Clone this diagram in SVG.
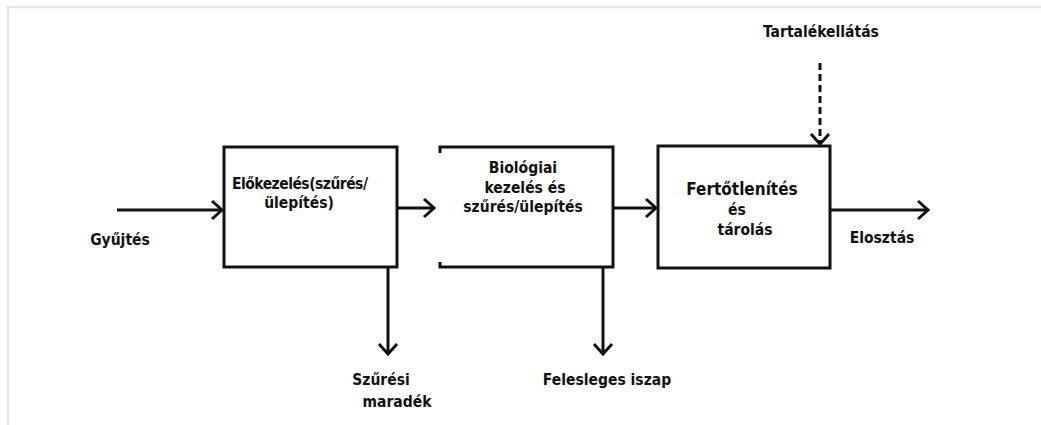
<svg xmlns="http://www.w3.org/2000/svg" width="1041" height="425" viewBox="0 0 1041 425">
  <defs>
    <style>
      .frame { fill: none; stroke: #e1e7ed; stroke-width: 2.5; }
      .box { fill: #ffffff; stroke: #111111; stroke-width: 3; }
      .edge { fill: none; stroke: #111111; stroke-width: 3; }
      .dash { fill: none; stroke: #111111; stroke-width: 3; stroke-dasharray: 7 4; }
      .head { fill: none; stroke: #111111; stroke-width: 3; stroke-linejoin: miter; }
      text { font-family: "DejaVu Sans Condensed", "DejaVu Sans", sans-serif; font-weight: bold; font-size: 15.5px; fill: #111111; }
      .big { font-size: 17px; }
      .mid { text-anchor: middle; }
    </style>
  </defs>
  <rect width="1041" height="425" fill="#ffffff"/>
  <path class="frame" d="M 8 425 V 7 H 1041"/>

  <g id="pretreatment">
    <rect class="box" x="224" y="147" width="173" height="120"/>
    <text x="300" y="189" class="mid" textLength="136">Előkezelés(szűrés/</text>
    <text x="299" y="208" class="mid">ülepítés)</text>
  </g>

  <g id="biological">
    <path class="edge" d="M 440 153 V 147 H 613 V 267 H 440 V 262"/>
    <text x="523" y="173" class="mid">Biológiai</text>
    <text x="525" y="193" class="mid">kezelés és</text>
    <text x="523" y="212" class="mid">szűrés/ülepítés</text>
  </g>

  <g id="disinfection">
    <rect class="box" x="658" y="146" width="172" height="122"/>
    <text x="742" y="195" class="big mid">Fertőtlenítés</text>
    <text x="737" y="215" class="mid">és</text>
    <text x="745" y="235" class="mid">tárolás</text>
  </g>

  <g id="labels">
    <text x="120" y="245" class="mid">Gyűjtés</text>
    <text x="821" y="37" class="mid">Tartalékellátás</text>
    <text x="882" y="243" class="mid">Elosztás</text>
    <text x="381" y="385" class="mid">Szűrési</text>
    <text x="397" y="407" class="mid">maradék</text>
    <text x="607" y="385" class="mid">Felesleges iszap</text>
  </g>

  <g id="connectors">
    <line class="edge" x1="117" y1="210" x2="222" y2="210"/>
    <path class="head" d="M 212 201 L 222 210 L 212 219"/>

    <line class="edge" x1="397" y1="208" x2="434" y2="208"/>
    <path class="head" d="M 424 199 L 434 208 L 424 217"/>

    <line class="edge" x1="613" y1="208" x2="656" y2="208"/>
    <path class="head" d="M 646 199 L 656 208 L 646 217"/>

    <line class="edge" x1="830" y1="210" x2="928" y2="210"/>
    <path class="head" d="M 918 201 L 928 210 L 918 219"/>

    <line class="dash" x1="820" y1="63" x2="820" y2="144"/>
    <path class="head" d="M 811 134 L 820 144 L 829 134"/>

    <line class="edge" x1="388" y1="267" x2="388" y2="354"/>
    <path class="head" d="M 379 344 L 388 354 L 397 344"/>

    <line class="edge" x1="603" y1="267" x2="603" y2="354"/>
    <path class="head" d="M 594 344 L 603 354 L 612 344"/>
  </g>
</svg>
